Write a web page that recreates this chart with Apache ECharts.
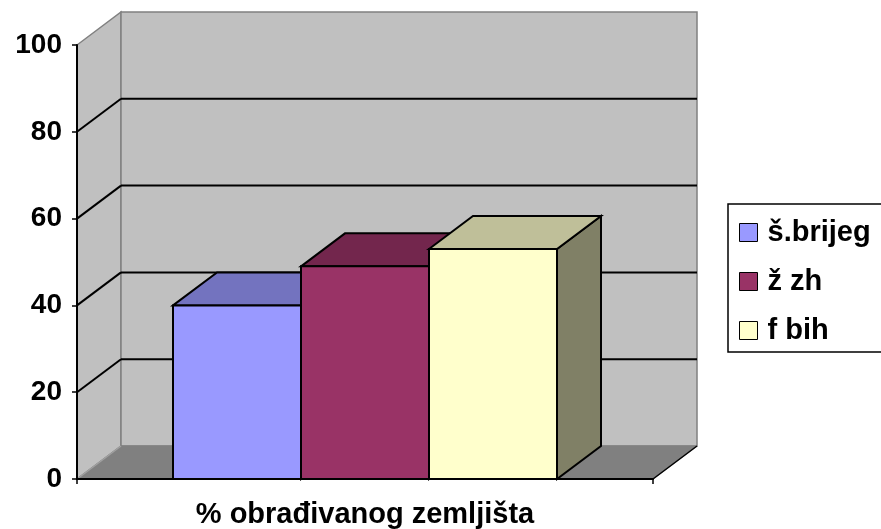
<!DOCTYPE html>
<html>
<head>
<meta charset="utf-8">
<script src="https://cdn.jsdelivr.net/npm/echarts@6/dist/echarts.min.js"></script>
<style>
  html, body { margin: 0; padding: 0; background: #fff; }
  #chart { width: 881px; height: 529px; }
</style>
</head>
<body>
<div id="chart"></div>
<script>
var categories = ['% obrađivanog zemljišta'];
var seriesNames = ['š.brijeg', 'ž zh', 'f bih'];
var seriesValues = [40, 49, 53];
var yTicks = [0, 20, 40, 60, 80, 100];

var frontColors = ['#9999FF', '#993366', '#FFFFCC'];
var topColors = ['#7373BF', '#73264D', '#BFBF99'];
var sideColors = ['#4D4D80', '#4D1A33', '#808066'];

// depth of the 3d box (px)
var DX = 44, DY = -33;
var FONT = '"Liberation Sans", Arial, sans-serif';

var chart = echarts.init(document.getElementById('chart'));

function wallItem(params, api) {
    var t = api.value(1);
    var c = api.coord([0, t]);
    var band = api.size([1, 0])[0];
    var xl = c[0] - band / 2, xr = c[0] + band / 2;
    var y = c[1];
    var children = [];
    if (params.dataIndex === 0) {
        var top = api.coord([0, yTicks[yTicks.length - 1]])[1];
        children.push({
            type: 'polygon', z2: -10,
            shape: { points: [[xl, y], [xl, top], [xl + DX, top + DY], [xl + DX, y + DY]] },
            style: { fill: '#C0C0C0', stroke: '#808080', lineWidth: 1.5 }
        });
        children.push({
            type: 'polygon', z2: -10,
            shape: { points: [[xl + DX, top + DY], [xr + DX, top + DY], [xr + DX, y + DY], [xl + DX, y + DY]] },
            style: { fill: '#C0C0C0', stroke: '#808080', lineWidth: 1.5 }
        });
        children.push({
            type: 'polygon', z2: -9,
            shape: { points: [[xl, y], [xl + DX, y + DY], [xr + DX, y + DY], [xr, y]] },
            style: { fill: '#808080', stroke: '#808080', lineWidth: 1 }
        });
        children.push({
            type: 'line', z2: -8,
            shape: { x1: xl, y1: y, x2: xl + DX, y2: y + DY },
            style: { stroke: '#A0A0A0', lineWidth: 1.5 }
        });
        children.push({
            type: 'line', z2: -8,
            shape: { x1: xr, y1: y, x2: xr + DX, y2: y + DY },
            style: { stroke: '#000', lineWidth: 1.5 }
        });
    } else if (params.dataIndex < yTicks.length - 1) {
        children.push({
            type: 'line',
            shape: { x1: xl, y1: y, x2: xl + DX, y2: y + DY },
            style: { stroke: '#000', lineWidth: 2 }
        });
        children.push({
            type: 'line',
            shape: { x1: xl + DX, y1: y + DY, x2: xr + DX, y2: y + DY },
            style: { stroke: '#000', lineWidth: 2 }
        });
    }
    return { type: 'group', children: children };
}

function barItem(idx) {
    return function (params, api) {
        var c = api.coord([api.value(0), api.value(1)]);
        var base = api.coord([api.value(0), 0]);
        var band = api.size([1, 0])[0];
        var w = band / 4.5;
        var x0 = base[0] - 1.5 * w + idx * w;
        var x1 = x0 + w;
        var yt = c[1], yb = base[1];
        var line = { stroke: '#000', lineWidth: 2, lineJoin: 'miter' };
        return {
            type: 'group',
            children: [
                {
                    type: 'polygon',
                    shape: { points: [[x1, yt], [x1 + DX, yt + DY], [x1 + DX, yb + DY], [x1, yb]] },
                    style: Object.assign({ fill: sideColors[idx] }, line)
                },
                {
                    type: 'polygon',
                    shape: { points: [[x0, yt], [x0 + DX, yt + DY], [x1 + DX, yt + DY], [x1, yt]] },
                    style: Object.assign({ fill: topColors[idx] }, line)
                },
                {
                    type: 'rect',
                    shape: { x: x0, y: yt, width: w, height: yb - yt },
                    style: Object.assign({ fill: frontColors[idx] }, line)
                }
            ]
        };
    };
}

var series = [{
    name: 'walls',
    type: 'custom',
    z: 1,
    silent: true,
    renderItem: wallItem,
    data: yTicks.map(function (t) { return [0, t]; })
}];

for (var i = 0; i < seriesNames.length; i++) {
    series.push({
        name: seriesNames[i],
        type: 'custom',
        z: 3 + i,
        itemStyle: { color: frontColors[i], borderColor: '#000', borderWidth: 1 },
        renderItem: barItem(i),
        data: [[0, seriesValues[i]]]
    });
}

var option = {
    animation: false,
    backgroundColor: '#fff',
    grid: { left: 77, right: 228, top: 45, bottom: 50 },
    legend: {
        orient: 'vertical',
        left: 728,
        top: 204,
        padding: [14, 24, 7, 11],
        itemGap: 20,
        itemWidth: 18,
        itemHeight: 18,
        borderColor: '#000',
        borderWidth: 1.5,
        icon: 'rect',
        data: seriesNames.map(function (n) {
            return { name: n, icon: 'rect', itemStyle: { borderColor: '#000', borderWidth: 1 } };
        }),
        textStyle: { fontFamily: FONT, fontWeight: 'bold', fontSize: 29, color: '#000', padding: [0, 0, 0, 5] }
    },
    xAxis: {
        type: 'category',
        data: categories,
        z: 10,
        axisLine: { lineStyle: { color: '#000', width: 2 } },
        axisTick: { show: true, length: 5, lineStyle: { color: '#000', width: 1.5 } },
        axisLabel: { fontFamily: FONT, fontWeight: 'bold', fontSize: 29, color: '#000', margin: 21 }
    },
    yAxis: {
        type: 'value',
        min: 0,
        max: 100,
        interval: 20,
        z: 10,
        axisLine: { show: true, lineStyle: { color: '#000', width: 2 } },
        axisTick: { show: true, length: 5, lineStyle: { color: '#000', width: 1.5 } },
        splitLine: { show: false },
        axisLabel: { fontFamily: FONT, fontWeight: 'bold', fontSize: 28, color: '#000', margin: 15 }
    },
    series: series
};

chart.setOption(option);
</script>
</body>
</html>
